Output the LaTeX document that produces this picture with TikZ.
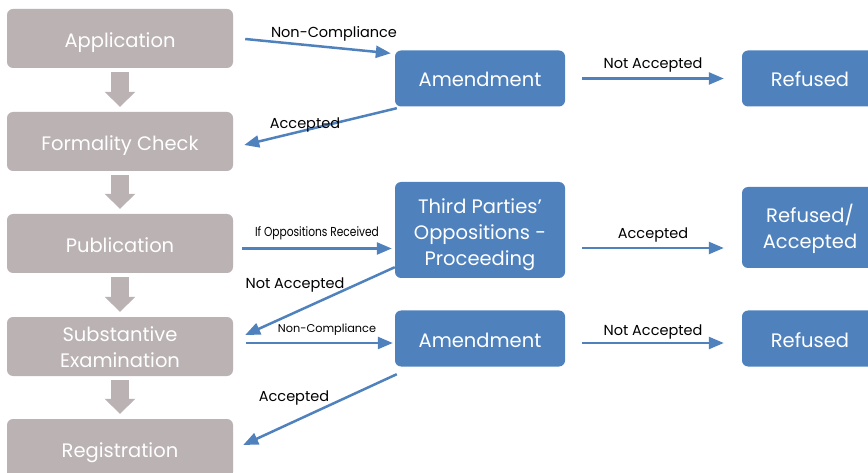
\documentclass[tikz,border=0pt]{standalone}
\usepackage{fontspec}
\setmainfont{Poppins}
\newfontfamily\narrowfont[FakeStretch=0.82]{Poppins}
\usetikzlibrary{arrows.meta,calc,positioning}
\definecolor{stagegray}{HTML}{BAB2B3}
\definecolor{branchblue}{HTML}{4F81BD}
\tikzset{
  stage/.style={rectangle, rounded corners=6pt, fill=stagegray, text=white,
    minimum width=226pt, minimum height=59pt, align=center,
    text height=22pt, text depth=4pt,
    font=\fontsize{19.5}{26}\selectfont},
  branch/.style={rectangle, rounded corners=6pt, fill=branchblue, text=white,
    minimum width=170pt, minimum height=56pt, align=center,
    text height=21pt, text depth=4pt,
    font=\fontsize{19.5}{26}\selectfont},
  flow/.style={draw=branchblue, line width=2.5pt, -{Triangle[length=15pt,width=12pt]}},
  downarr/.style={draw=stagegray, line width=18pt, -{Triangle[length=15pt,width=30pt]},
    shorten <=4pt, shorten >=5pt},
  lbl/.style={font=\fontsize{14.5}{17}\selectfont, text=black, inner sep=0pt},
  every picture/.style={line join=round}
}
\begin{document}
\begin{tikzpicture}[x=1pt,y=-1pt]
  \useasboundingbox (0,0) rectangle (868,473);
  \clip (0,0) rectangle (868,473);
  % main stages
  \node[stage] (app) at (120,38.5) {Application};
  \node[stage] (form) at (120,141.5) {Formality Check};
  \node[stage] (pub) at (120,243.5) {Publication};
  \node[stage, text height=45pt] (subst) at (120,346.5) {Substantive\\Examination};
  \node[stage] (reg) at (120,448.5) {Registration};
  \draw[downarr] (app) -- (form);
  \draw[downarr] (form) -- (pub);
  \draw[downarr] (pub) -- (subst);
  \draw[downarr] (subst) -- (reg);
  % side branches
  \node[branch] (amd1) at (480,78.5) {Amendment};
  \node[branch, minimum width=136pt] (ref1) at (810,78.5) {Refused};
  \node[branch, minimum height=96pt, text height=76pt] (third) at (480,230) {Third Parties'\\Oppositions -\\Proceeding};
  \node[branch, minimum width=136pt, minimum height=81pt, text height=46pt] (refacc) at (810,227.5) {Refused/\\Accepted};
  \node[branch] (amd2) at (480,338.5) {Amendment};
  \node[branch, minimum width=136pt] (ref2) at (810,338.5) {Refused};
  % connectors
  \draw[flow] ($(app.east)+(12,0.5)$) -- ($(amd1.north west)+(-4,3)$);
  \draw[flow] ($(amd1.south west)+(2,1.5)$) -- ($(form.east)+(11,3.5)$);
  \draw[flow] ($(amd1.east)+(17,0)$) -- ($(ref1.west)+(-18,0)$);
  \draw[flow] ($(pub.east)+(9,5)$) -- ($(third.west)+(-3,18.5)$);
  \draw[flow] ($(third.south west)+(0,-11)$) -- ($(subst.east)+(12,-11.5)$);
  \draw[flow] ($(third.east)+(17,18)$) -- ($(refacc.west)+(-18,20.5)$);
  \draw[flow] ($(subst.east)+(13,-3.5)$) -- ($(amd2.west)+(-2,4.5)$);
  \draw[flow] ($(amd2.south west)+(2,7.5)$) -- ($(reg.east)+(10,-3.5)$);
  \draw[flow] ($(amd2.east)+(17,4.5)$) -- ($(ref2.west)+(-18,4.5)$);
  % labels
  \node[lbl] (l1) at (334,34) {Non-Compliance};
  \node[lbl] (l2) at (305,125) {Accepted};
  \node[lbl] (l3) at (653,65) {Not Accepted};
  \node[lbl, font=\narrowfont\fontsize{13}{15}\selectfont] (l4) at (317,233) {If Oppositions Received};
  \node[lbl] (l5) at (295,285) {Not Accepted};
  \node[lbl] (l6) at (653,235) {Accepted};
  \node[lbl, font=\fontsize{11.3}{13}\selectfont] (l7) at (327,329.5) {Non-Compliance};
  \node[lbl] (l8) at (294,398) {Accepted};
  \node[lbl] (l9) at (653,332) {Not Accepted};
\end{tikzpicture}
\end{document}
